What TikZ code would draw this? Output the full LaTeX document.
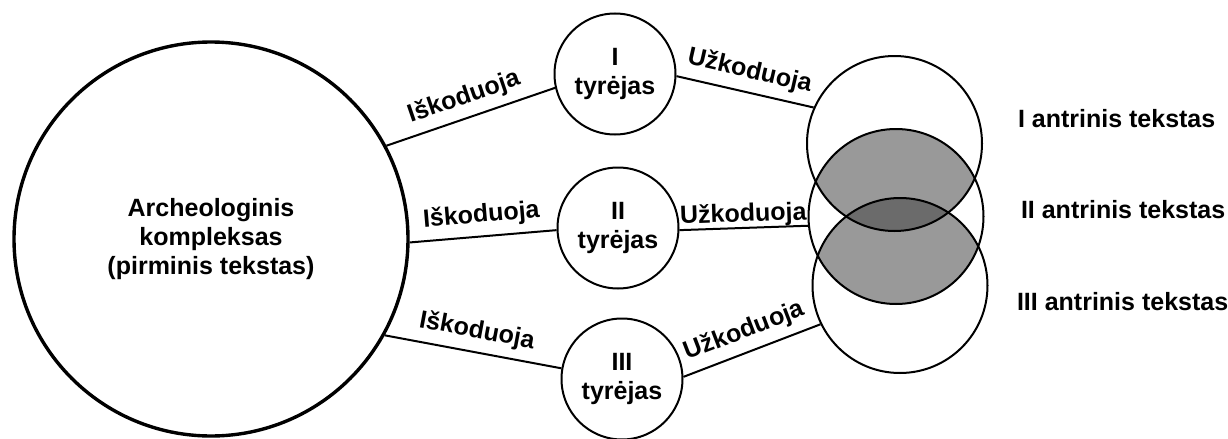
\documentclass[tikz,border=0pt]{standalone}
\usepackage{fontspec}
\setmainfont{Liberation Sans}
\usepackage{tikz}
\usetikzlibrary{shapes}

\begin{document}
\begin{tikzpicture}[x=0.5pt, y=-0.5pt, line width=1pt, inner sep=2pt,
    every node/.style={font=\fontsize{12.5}{14.5}\selectfont\bfseries},
    bigstate/.style={circle, draw, line width=1.7pt, minimum size=197pt, align=center},
    state/.style={circle, draw, minimum size=60.5pt, inner sep=0pt, align=center},
    venn/.style={circle, draw, minimum size=87.5pt},
    lbl/.style={sloped, above=2pt}]

      \useasboundingbox (0,0) rectangle (1228,439);

      \coordinate (ca) at (894.5,143.5);
      \coordinate (cb) at (896,216.5);
      \coordinate (cc) at (900,285.5);

      \begin{scope}
        \clip (cb) circle[radius=87.5];
        \fill[black!40] (ca) circle[radius=87.5];
        \fill[black!40] (cc) circle[radius=87.5];
      \end{scope}
      \begin{scope}
        \clip (ca) circle[radius=87.5];
        \fill[black!58] (cc) circle[radius=87.5];
      \end{scope}

      \node[bigstate] (arch) at (211,239) {Archeologinis\\kompleksas\\(pirminis tekstas)};
      \node[state] (t1) at (615,74) {I\\tyrėjas};
      \node[state] (t2) at (618,228) {II\\tyrėjas};
      \node[state] (t3) at (622,379) {III\\tyrėjas};
      \node[venn] (va) at (ca) {};
      \node[venn] (vb) at (cb) {};
      \node[venn] (vc) at (cc) {};

      \node[anchor=base west] (ta) at (1013,127) {I antrinis tekstas};
      \node[anchor=base west] (tb) at (1016,218) {II antrinis tekstas};
      \node[anchor=base west] (tc) at (1012,310) {III antrinis tekstas};

      \path
      (arch.28.7) edge node[lbl] {Iškoduoja} (t1.193.6)
      (arch.-1.1) edge node[lbl] {Iškoduoja} (t2.182)
      (arch.-29.7) edge node[lbl] {Iškoduoja} (t3.170.8)

      (t1.-2.8) edge node[lbl] {Užkoduoja} (va.156.7)
      (t2.-2) edge node[sloped, above=-2pt] {Užkoduoja} (vb.186.7)
      (t3.2.7) edge node[lbl] {Užkoduoja} (vc.206.8);
    \end{tikzpicture}
\end{document}
